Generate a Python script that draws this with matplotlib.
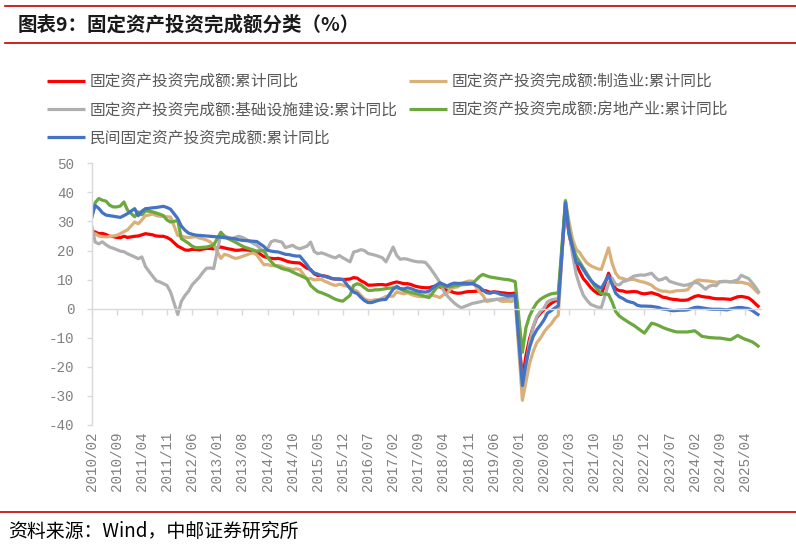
import numpy as np
import pandas as pd
import matplotlib
matplotlib.use("Agg")
import matplotlib.pyplot as plt
from matplotlib.lines import Line2D
from matplotlib.font_manager import FontProperties

plt.rcParams['font.family'] = ['Noto Sans CJK SC', 'DejaVu Sans']

# ---------------- data (Feb-Dec of each year; Jan has no release) ----------------
start_month = '2010-02'
end_month = '2025-08'

total = [  # 固定资产投资完成额:累计同比
    26.6, 26.4, 25.8, 25.9, 25.5, 24.9, 24.8, 24.5, 24.4, 24.9, 24.5,   # 2010
    24.9, 25.0, 25.4, 25.8, 25.6, 25.4, 25.0, 24.9, 24.9, 24.5, 23.8,   # 2011
    21.5, 20.9, 20.2, 20.1, 20.4, 20.4, 20.2, 20.5, 20.7, 20.7, 20.6,   # 2012
    21.2, 20.9, 20.6, 20.4, 20.1, 20.1, 20.3, 20.2, 20.1, 19.9, 19.6,   # 2013
    17.9, 17.6, 17.3, 17.2, 17.3, 17.0, 16.5, 16.1, 15.9, 15.8, 15.7,   # 2014
    13.9, 13.5, 12.0, 11.4, 11.4, 11.2, 10.9, 10.3, 10.2, 10.2, 10.0,   # 2015
    10.2, 10.7, 10.5, 9.6, 9.0, 8.1, 8.1, 8.2, 8.3, 8.3, 8.1,           # 2016
    8.9, 9.2, 8.9, 8.6, 8.6, 8.3, 7.8, 7.5, 7.3, 7.2, 7.2,              # 2017
    7.9, 7.5, 7.0, 6.1, 6.0, 5.5, 5.3, 5.4, 5.7, 5.9, 5.9,              # 2018
    6.1, 6.3, 6.1, 5.6, 5.8, 5.7, 5.5, 5.4, 5.2, 5.2, 5.4,              # 2019
    -24.5, -16.1, -10.3, -6.3, -3.1, -1.6, -0.3, 0.8, 1.8, 2.6, 2.9,    # 2020
    35.0, 25.6, 19.9, 15.4, 12.6, 10.3, 8.9, 7.3, 6.1, 5.2, 4.9,        # 2021
    12.2, 9.3, 6.8, 6.2, 6.1, 5.7, 5.8, 5.9, 5.8, 5.3, 5.1,             # 2022
    5.5, 5.1, 4.7, 4.0, 3.8, 3.4, 3.2, 3.1, 2.9, 2.9, 3.0,              # 2023
    4.2, 4.5, 4.2, 4.0, 3.9, 3.6, 3.4, 3.4, 3.4, 3.3, 3.2,              # 2024
    4.1, 4.2, 4.0, 3.7, 2.8, 1.6, 0.5,                                  # 2025
]

manufacturing = [  # 制造业
    24.1, 25.8, 25.0, 24.8, 24.7, 24.8, 25.0, 25.2, 25.8, 26.5, 27.1,
    29.8, 29.2, 30.5, 32.0, 32.2, 32.6, 32.0, 31.8, 31.7, 31.6, 31.5,
    25.2, 25.0, 24.6, 24.5, 24.6, 24.8, 24.3, 24.0, 23.6, 23.0, 22.0,
    17.3, 18.7, 18.4, 17.8, 17.3, 17.5, 18.0, 18.4, 18.9, 19.2, 18.5,
    15.1, 15.2, 14.8, 14.8, 14.8, 14.6, 14.0, 13.8, 13.5, 13.7, 13.5,
    10.2, 10.4, 9.9, 10.0, 10.1, 9.4, 8.9, 8.3, 8.0, 8.4, 8.1,
    7.5, 6.4, 6.0, 4.6, 3.3, 2.9, 2.8, 3.1, 3.1, 3.6, 4.2,
    4.3, 5.8, 5.4, 5.1, 5.5, 4.9, 4.5, 4.2, 4.1, 4.1, 4.8,
    4.3, 3.8, 4.8, 5.2, 6.8, 7.3, 7.5, 8.7, 9.1, 9.5, 9.5,
    5.9, 4.6, 2.5, 2.7, 3.0, 3.3, 2.6, 2.5, 2.6, 2.5, 3.1,
    -31.5, -25.2, -18.8, -14.8, -11.7, -10.2, -8.1, -6.5, -5.3, -3.5, -2.2,
    37.3, 29.8, 23.8, 20.4, 19.2, 17.3, 15.7, 14.8, 14.2, 13.7, 13.5,
    20.9, 15.6, 12.2, 10.6, 10.4, 9.9, 10.0, 10.1, 9.7, 9.3, 9.1,
    8.1, 7.0, 6.4, 6.0, 6.0, 5.7, 5.9, 6.2, 6.2, 6.3, 6.5,
    9.4, 9.9, 9.7, 9.6, 9.5, 9.3, 9.1, 9.2, 9.3, 9.3, 9.2,
    9.0, 9.1, 8.8, 8.5, 7.5, 6.2, 5.1,
]

infrastructure = [  # 基础设施建设
    28.6, 22.9, 22.3, 23.0, 22.0, 21.2, 20.8, 20.3, 19.8, 19.6, 18.9,
    17.8, 17.2, 17.8, 14.5, 12.8, 11.2, 9.6, 9.2, 8.6, 8.0, 5.7,
    -2.0, 2.5, 4.5, 6.0, 8.2, 9.5, 10.8, 12.5, 13.9, 14.0, 13.8,
    25.8, 25.0, 24.5, 24.1, 24.5, 24.9, 24.5, 23.9, 23.2, 22.5, 21.8,
    19.5, 20.6, 23.0, 23.5, 23.2, 22.9, 21.0, 21.4, 21.8, 21.0, 20.6,
    21.5, 22.9, 19.7, 18.9, 19.2, 18.8, 18.3, 17.8, 17.5, 18.3, 17.5,
    16.1, 19.5, 19.8, 20.3, 20.0, 19.0, 18.7, 18.4, 18.0, 17.5, 16.1,
    21.2, 18.3, 17.0, 17.2, 17.0, 16.6, 16.3, 16.1, 16.1, 15.9, 14.5,
    11.0, 9.0, 6.3, 4.5, 3.2, 2.0, 1.0, 0.3, 0.8, 1.3, 1.8,
    2.3, 2.6, 2.9, 3.0, 3.1, 3.2, 3.4, 3.5, 3.6, 3.7, 3.8,
    -26.9, -19.7, -11.8, -6.3, -2.7, -1.0, 0.2, 2.4, 3.0, 3.3, 3.4,
    36.6, 26.9, 18.4, 11.8, 7.8, 4.6, 2.9, 1.5, 1.0, 0.5, 0.4,
    8.6, 10.5, 8.3, 8.2, 9.3, 9.6, 10.4, 11.2, 11.4, 11.6, 11.5,
    12.2, 10.8, 9.8, 10.1, 10.7, 9.4, 9.0, 8.6, 8.3, 8.0, 8.2,
    9.0, 8.8, 7.8, 6.7, 7.7, 8.1, 7.9, 9.3, 9.4, 9.4, 9.2,
    9.9, 11.5, 10.9, 10.4, 8.9, 7.3, 5.4,
]

real_estate = [  # 房地产业
    31.0, 36.5, 37.9, 37.3, 37.0, 35.6, 35.0, 35.0, 35.3, 36.7, 33.9,
    31.6, 33.3, 32.3, 33.6, 33.5, 33.3, 32.9, 32.5, 32.0, 30.5, 29.8,
    30.3, 24.1, 23.3, 22.5, 21.5, 21.0, 21.0, 21.1, 21.2, 21.5, 21.9,
    26.3, 24.9, 24.1, 23.5, 22.9, 22.2, 21.5, 21.0, 20.6, 20.2, 19.8,
    20.0, 17.8, 16.2, 14.9, 14.4, 13.8, 13.5, 13.2, 12.6, 12.0, 11.5,
    10.3, 8.0, 6.9, 5.9, 5.5, 5.0, 4.5, 3.8, 3.2, 2.8, 2.6,
    4.6, 8.0, 8.6, 8.2, 7.2, 6.3, 6.3, 6.5, 6.5, 6.7, 6.9,
    7.2, 7.2, 6.8, 6.2, 5.9, 5.6, 5.3, 5.0, 4.6, 4.2, 3.8,
    7.0, 8.0, 7.7, 7.4, 7.6, 7.9, 8.0, 8.2, 8.3, 8.4, 8.5,
    11.0, 11.8, 11.3, 10.9, 10.7, 10.5, 10.3, 10.1, 10.0, 9.7, 9.3,
    -15.0, -6.5, -2.5, 0.0, 2.0, 3.2, 4.0, 4.6, 5.1, 5.3, 5.4,
    37.0, 27.0, 21.5, 18.0, 16.0, 14.0, 12.0, 10.0, 8.0, 6.5, 5.2,
    4.9, 2.3, -1.0, -2.5, -3.4, -4.2, -5.0, -5.7, -6.6, -7.5, -8.4,
    -5.0, -5.3, -5.8, -6.4, -6.9, -7.3, -7.7, -8.0, -8.0, -8.0, -8.0,
    -7.6, -8.5, -9.5, -9.7, -9.9, -10.0, -10.1, -10.1, -10.3, -10.5, -10.7,
    -9.2, -9.9, -10.5, -10.9, -11.4, -12.2, -13.2,
]

private = [  # 民间固定资产投资完成额
    31.5, 35.5, 34.5, 33.0, 32.2, 32.0, 31.8, 31.6, 31.4, 32.0, 32.7,
    34.4, 32.0, 33.5, 34.4, 34.5, 34.7, 34.8, 35.0, 35.2, 34.8, 34.2,
    31.0, 28.4, 27.0, 26.0, 25.6, 25.3, 25.2, 25.1, 25.0, 24.9, 24.8,
    24.6, 24.4, 24.3, 24.2, 24.0, 23.7, 23.5, 23.4, 23.3, 23.2, 23.1,
    21.4, 20.1, 19.8, 19.6, 19.5, 19.1, 18.7, 18.6, 18.3, 18.1, 18.1,
    15.1, 13.2, 12.3, 11.9, 11.4, 11.1, 10.7, 10.4, 10.2, 10.1, 10.1,
    6.9, 5.7, 5.2, 3.9, 2.8, 2.1, 2.1, 2.5, 2.9, 3.1, 3.2,
    6.7, 7.7, 6.9, 6.8, 7.2, 6.9, 6.4, 6.0, 5.8, 5.7, 6.0,
    8.1, 8.9, 8.4, 7.8, 8.4, 8.8, 8.7, 8.7, 8.8, 8.7, 8.7,
    7.5, 6.4, 5.5, 5.3, 5.7, 5.4, 4.9, 4.7, 4.4, 4.5, 4.7,
    -26.4, -18.8, -13.3, -9.6, -7.3, -5.7, -3.9, -1.5, -0.7, 0.2, 1.0,
    36.4, 26.0, 21.0, 15.7, 15.4, 13.4, 11.5, 9.8, 8.6, 7.7, 7.0,
    11.4, 8.4, 5.3, 4.1, 3.5, 2.7, 2.3, 2.0, 1.2, 0.9, 0.9,
    0.8, 0.6, 0.4, -0.1, -0.2, -0.5, -0.7, -0.6, -0.5, -0.5, -0.4,
    0.4, 0.5, 0.3, 0.1, -0.1, -0.2, -0.2, -0.2, -0.3, -0.4, -0.1,
    0.4, 0.4, 0.2, 0.0, -0.6, -1.5, -2.3,
]

series_labels = [
    '固定资产投资完成额:累计同比',
    '固定资产投资完成额:制造业:累计同比',
    '固定资产投资完成额:基础设施建设:累计同比',
    '固定资产投资完成额:房地产业:累计同比',
    '民间固定资产投资完成额:累计同比',
]
series_colors = ['#FF0000', '#D9B07A', '#AFAFAF', '#6BA83E', '#4472C4']

title_text = '图表9：固定资产投资完成额分类（%）'
source_text = '资料来源：Wind，中邮证券研究所'
yticks = [50, 40, 30, 20, 10, 0, -10, -20, -30, -40]

# ---------------- x positions ----------------
months = pd.period_range(start_month, end_month, freq='M')
pos = np.arange(len(months))
xs = pos[months.month != 1]
tick_pos = pos[::7]
tick_lab = [m.strftime('%Y/%m') for m in months[::7]]

# ---------------- figure ----------------
W, H = 796, 548
fig = plt.figure(figsize=(W / 100, H / 100), dpi=100)
ax = fig.add_axes([91.6 / W, 1 - 425 / H, (761.1 - 91.6) / W, (425 - 163.3) / H])

all_series = [total, manufacturing, infrastructure, real_estate, private]
handles = []
for vals, lab, col in zip(all_series, series_labels, series_colors):
    h, = ax.plot(xs, vals, color=col, lw=2.3, label=lab, solid_joinstyle='round',
                 solid_capstyle='butt')
    handles.append(h)

ax.set_xlim(0, len(months) - 0.5)
ax.set_ylim(-40, 50)

axis_col = '#D9D9D9'
lab_col = '#808080'
mono = FontProperties(family='Liberation Mono', size=10.3)

for s in ['top', 'right']:
    ax.spines[s].set_visible(False)
ax.spines['left'].set_color(axis_col)
ax.spines['left'].set_linewidth(1.0)
ax.spines['bottom'].set_position(('data', 0))
ax.spines['bottom'].set_color(axis_col)
ax.spines['bottom'].set_linewidth(1.0)

ax.set_yticks(yticks)
ax.set_yticklabels([str(v) for v in yticks], fontproperties=mono, color=lab_col)
ax.tick_params(axis='y', direction='out', length=3.5, width=1, color=axis_col, pad=9)

ax.set_xticks(tick_pos)
ax.tick_params(axis='x', direction='out', length=4, width=1, color=axis_col,
               labelbottom=False)

sec = ax.secondary_xaxis('bottom')
sec.set_xticks(tick_pos)
sec.set_xticklabels(tick_lab, rotation=90, fontproperties=mono, color=lab_col,
                    va='top', ha='center')
sec.tick_params(axis='x', length=0, pad=5)
sec.spines['bottom'].set_visible(False)

# legend: column-major ordering to reproduce row-wise layout
order = [0, 2, 4, 1, 3]
leg = fig.legend([handles[i] for i in order], [series_labels[i] for i in order],
                 loc='upper left', bbox_to_anchor=(47 / W, 1 - 73 / H), ncol=2,
                 frameon=False, borderaxespad=0, borderpad=0,
                 handlelength=2.4, handletextpad=0.33, columnspacing=0.72,
                 labelspacing=0.72,
                 prop=FontProperties(family=['Noto Sans CJK SC', 'DejaVu Sans'], size=11.3))
for t in leg.get_texts():
    t.set_color('#595959')

# title, rules, source
red = '#C00000'
fig.add_artist(Line2D([5 / W, 1], [1 - 5.7 / H, 1 - 5.7 / H], color=red, lw=1.2,
                      transform=fig.transFigure))
fig.add_artist(Line2D([5 / W, 1], [1 - 43.3 / H, 1 - 43.3 / H], color=red, lw=1.2,
                      transform=fig.transFigure))
fig.text(18 / W, 1 - 25 / H, title_text, fontsize=14, fontweight='bold',
         color='#1A1A1A', va='center', ha='left',
         family=['Noto Sans CJK SC', 'DejaVu Sans'])
fig.add_artist(Line2D([0, 1], [1 - 512 / H, 1 - 512 / H], color=red, lw=1.2,
                      transform=fig.transFigure))
fig.text(8 / W, 1 - 531 / H, source_text, fontsize=13.6, color='#000000',
         va='center', ha='left', family=['Noto Sans CJK SC', 'DejaVu Sans'])

fig.savefig('out.png', dpi=100)
